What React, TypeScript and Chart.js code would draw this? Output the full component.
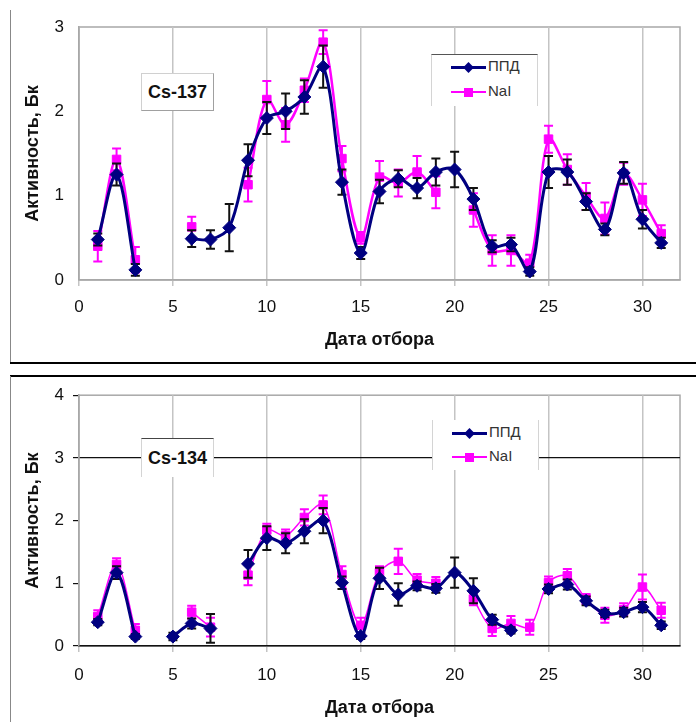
import React, { useEffect, useRef } from "react";
import { Chart, registerables } from "chart.js";

Chart.register(...registerables);

// Sampling days (x axis)
const days = [1, 2, 3, 4, 5, 6, 7, 8, 9, 10, 11, 12, 13, 14, 15, 16, 17, 18, 19, 20, 21, 22, 23, 24, 25, 26, 27, 28, 29, 30, 31];

// Cs-137 activity, Bq
const ppd137 = [0.48, 1.25, 0.12, null, null, 0.49, 0.48, 0.62, 1.42, 1.92, 2.0, 2.17, 2.53, 1.16, 0.32, 1.05, 1.2, 1.09, 1.28, 1.31, 0.96, 0.4, 0.42, 0.1, 1.28, 1.28, 0.93, 0.6, 1.27, 0.72, 0.44];
const ppd137Err = [0.07, 0.13, 0.07, null, null, 0.1, 0.11, 0.28, 0.19, 0.19, 0.21, 0.2, 0.25, 0.15, 0.07, 0.14, 0.1, 0.12, 0.16, 0.21, 0.13, 0.07, 0.08, 0.05, 0.19, 0.15, 0.1, 0.07, 0.13, 0.11, 0.06];
const nai137 = [0.4, 1.43, 0.24, null, null, 0.63, null, null, 1.13, 2.14, 1.84, 2.25, 2.82, 1.44, 0.5, 1.22, 1.15, 1.28, 1.04, null, 0.83, 0.35, 0.35, 0.2, 1.67, 1.31, 0.99, 0.73, 1.26, 0.95, 0.55];
const nai137Err = [0.18, 0.13, 0.15, null, null, 0.12, null, null, 0.2, 0.22, 0.2, 0.14, 0.14, 0.15, 0.07, 0.19, 0.16, 0.19, 0.19, null, 0.2, 0.18, 0.18, 0.1, 0.16, 0.18, 0.16, 0.19, 0.13, 0.19, 0.1];

// Cs-134 activity, Bq
const ppd134 = [0.38, 1.17, 0.15, null, 0.15, 0.36, 0.28, null, 1.31, 1.72, 1.64, 1.83, 2.0, 1.01, 0.16, 1.08, 0.82, 0.96, 0.92, 1.17, 0.88, 0.42, 0.25, null, 0.91, 0.98, 0.72, 0.52, 0.54, 0.62, 0.33];
const ppd134Err = [0.05, 0.1, 0.04, null, 0.06, 0.08, 0.23, null, 0.22, 0.19, 0.16, 0.19, 0.2, 0.1, 0.05, 0.17, 0.18, 0.07, 0.07, 0.24, 0.2, 0.08, 0.05, null, 0.07, 0.08, 0.07, 0.06, 0.07, 0.08, 0.06];
const nai134 = [0.47, 1.3, 0.25, null, null, 0.54, 0.3, null, 1.13, 1.85, 1.76, 2.05, 2.25, 1.14, 0.33, 1.17, 1.35, 1.05, 1.0, null, 0.75, 0.28, 0.36, 0.3, 1.01, 1.12, 0.75, 0.49, 0.58, 0.94, 0.57];
const nai134Err = [0.1, 0.1, 0.1, null, null, 0.1, 0.15, null, 0.16, 0.1, 0.1, 0.13, 0.15, 0.13, 0.12, 0.1, 0.2, 0.1, 0.1, null, 0.1, 0.12, 0.12, 0.12, 0.1, 0.11, 0.08, 0.12, 0.1, 0.2, 0.12];

const seriesNames = ["ППД", "NaI"];
const xTitle = "Дата отбора";
const yTitle = "Активность, Бк";

const FONT = '"Liberation Sans", Arial, sans-serif';
const NAVY = "#000080";
const MAGENTA = "#ff00ff";

type Num = number | null;

function errorBars(errs: Num[][], colors: string[]) {
  return {
    id: "errorBars",
    beforeDatasetDraw(chart: any, args: any) {
      const i = args.index;
      const err = errs[i];
      if (!err) return;
      const ds = chart.data.datasets[i];
      const xs = chart.scales.x;
      const ys = chart.scales.y;
      const ctx = chart.ctx;
      ctx.save();
      ctx.strokeStyle = colors[i];
      ctx.lineWidth = 2;
      ds.data.forEach((p: any, j: number) => {
        const e = err[j];
        if (p.y == null || e == null) return;
        const x = xs.getPixelForValue(p.x);
        const lo = ys.getPixelForValue(p.y - e);
        const hi = ys.getPixelForValue(p.y + e);
        ctx.beginPath();
        ctx.moveTo(x, lo);
        ctx.lineTo(x, hi);
        ctx.moveTo(x - 4.5, lo);
        ctx.lineTo(x + 4.5, lo);
        ctx.moveTo(x - 4.5, hi);
        ctx.lineTo(x + 4.5, hi);
        ctx.stroke();
      });
      ctx.restore();
    },
  };
}

const plotFrame = {
  id: "plotFrame",
  beforeDraw(chart: any) {
    const { left, top, right, bottom } = chart.chartArea;
    const ctx = chart.ctx;
    ctx.save();
    ctx.strokeStyle = "#a8a8a8";
    ctx.lineWidth = 1.5;
    ctx.strokeRect(left, top, right - left, bottom - top);
    ctx.restore();
  },
};

function axisTitles(xTitleY: number) {
  return {
    id: "axisTitles",
    afterDraw(chart: any) {
      const { left, top, right, bottom } = chart.chartArea;
      const ctx = chart.ctx;
      ctx.save();
      ctx.fillStyle = "#111";
      ctx.font = `bold 18px ${FONT}`;
      ctx.textAlign = "center";
      ctx.textBaseline = "middle";
      ctx.fillText(xTitle, (left + right) / 2, xTitleY);
      ctx.translate(33, (top + bottom) / 2);
      ctx.rotate(-Math.PI / 2);
      ctx.fillText(yTitle, 0, 0);
      ctx.restore();
    },
  };
}

type PanelProps = {
  top: number;
  height: number;
  padTop: number;
  plotBottom: number;
  yMax: number;
  ppd: Num[];
  ppdErr: Num[];
  nai: Num[];
  naiErr: Num[];
  naiWidth: number;
  yTickMarks: boolean;
  yGridAt: number | null;
  xBorder: string;
  xTickPad: number;
  xTitleY: number;
};

function Panel(p: PanelProps) {
  const ref = useRef<HTMLCanvasElement>(null);
  useEffect(() => {
    const toPts = (arr: Num[]) => days.map((d, i) => ({ x: d, y: arr[i] }));
    const chart = new Chart(ref.current as HTMLCanvasElement, {
      type: "line",
      data: {
        datasets: [
          {
            label: seriesNames[0],
            data: toPts(p.ppd) as any,
            borderColor: NAVY,
            backgroundColor: NAVY,
            borderWidth: 3,
            pointStyle: "rectRot",
            pointRadius: 6.5,
            pointBackgroundColor: NAVY,
            pointBorderColor: NAVY,
            pointBorderWidth: 1,
            tension: 0.33,
            spanGaps: false,
          },
          {
            label: seriesNames[1],
            data: toPts(p.nai) as any,
            borderColor: MAGENTA,
            backgroundColor: MAGENTA,
            borderWidth: p.naiWidth,
            pointStyle: "rect",
            pointRadius: 6,
            pointBackgroundColor: MAGENTA,
            pointBorderColor: MAGENTA,
            pointBorderWidth: 1,
            tension: 0.33,
            spanGaps: false,
          },
        ],
      },
      options: {
        animation: false,
        responsive: false,
        maintainAspectRatio: false,
        layout: { padding: { top: p.padTop, right: 16, left: 0, bottom: 0 } },
        plugins: { legend: { display: false }, tooltip: { enabled: false } },
        scales: {
          x: {
            type: "linear",
            min: 0,
            max: 32,
            afterBuildTicks: (s: any) => {
              s.ticks = s.ticks.filter((t: any) => t.value % 5 === 0);
            },
            afterFit: (s: any) => {
              s.height = p.height - p.plotBottom;
            },
            ticks: { stepSize: 5, font: { family: FONT, size: 17 }, color: "#111", padding: p.xTickPad, maxRotation: 0, autoSkip: false },
            grid: { color: "#c4c4c4", lineWidth: 1.5, tickLength: 6, tickColor: "#c4c4c4" },
            border: { color: p.xBorder, width: 1.5 },
          },
          y: {
            type: "linear",
            min: 0,
            max: p.yMax,
            afterFit: (s: any) => {
              s.width = 79;
            },
            ticks: { stepSize: 1, font: { family: FONT, size: 17 }, color: "#111", padding: 9 },
            grid: {
              color: (c: any) => (p.yGridAt !== null && c.tick && c.tick.value === p.yGridAt ? "#111" : "rgba(0,0,0,0)"),
              lineWidth: 1.2,
              tickLength: 6,
              tickColor: p.yTickMarks ? "#111" : "rgba(0,0,0,0)",
            },
            border: { color: "#a8a8a8", width: 1.5 },
          },
        },
      },
      plugins: [plotFrame, errorBars([p.ppdErr, p.naiErr], ["#111", MAGENTA]), axisTitles(p.xTitleY)],
    });
    return () => chart.destroy();
  }, []);
  return (
    <canvas
      ref={ref}
      width={696}
      height={p.height}
      style={{ position: "absolute", left: 0, top: p.top, width: 696, height: p.height, display: "block" }}
    />
  );
}

function Legend({ left, top, width, height, rows, topBorder, naiWidth }: any) {
  return (
    <>
      <div
        style={{
          position: "absolute",
          left,
          top,
          width,
          height,
          background: "#fff",
          borderTop: topBorder ? "1.5px solid #555" : "none",
          borderLeft: "1.5px solid #d4d4d4",
          borderRight: "1.5px solid #d4d4d4",
          boxSizing: "border-box",
        }}
      />
      {rows.map((y: number, i: number) => (
        <React.Fragment key={i}>
          <div
            style={{
              position: "absolute",
              left: left + 20,
              top: y - (i === 0 ? 1.5 : naiWidth / 2),
              width: 35,
              height: i === 0 ? 3 : naiWidth,
              background: i === 0 ? NAVY : MAGENTA,
            }}
          />
          <div
            style={{
              position: "absolute",
              left: left + 37.5 - (i === 0 ? 4.5 : 4.5),
              top: y - 4.5,
              width: 9,
              height: 9,
              background: i === 0 ? NAVY : MAGENTA,
              transform: i === 0 ? "rotate(45deg) scale(0.85)" : "none",
            }}
          />
          <div
            style={{
              position: "absolute",
              left: left + 57,
              top: y - 10,
              height: 20,
              lineHeight: "20px",
              font: `15px ${FONT}`,
              color: "#333",
              whiteSpace: "nowrap",
            }}
          >
            {seriesNames[i]}
          </div>
        </React.Fragment>
      ))}
    </>
  );
}

function Tag({ left, top, width, height, text, variant }: any) {
  const style: any =
    variant === 0
      ? {
          border: "1px solid #d0d0d0",
          borderRight: "1.5px solid #a0a0a0",
          borderBottom: "1.5px solid #a0a0a0",
        }
      : {
          borderTop: "1.5px solid #444",
          borderLeft: "1.5px solid #d4d4d4",
          borderRight: "1.5px solid #d4d4d4",
        };
  return (
    <div
      style={{
        position: "absolute",
        left,
        top,
        width,
        height,
        background: "#fff",
        boxSizing: "border-box",
        display: "flex",
        alignItems: "center",
        justifyContent: "center",
        font: `bold 18px ${FONT}`,
        color: "#111",
        ...style,
      }}
    >
      {text}
    </div>
  );
}

export default function App() {
  return (
    <div style={{ position: "absolute", left: 0, top: 0, width: 696, height: 722, background: "#fff", overflow: "hidden" }}>
      <Panel
        top={0}
        height={365}
        padTop={27}
        plotBottom={280}
        yMax={3}
        ppd={ppd137}
        ppdErr={ppd137Err}
        nai={nai137}
        naiErr={nai137Err}
        naiWidth={2.5}
        yTickMarks={false}
        yGridAt={null}
        xBorder="#a8a8a8"
        xTickPad={11}
        xTitleY={340}
      />
      <Panel
        top={376}
        height={346}
        padTop={15}
        plotBottom={270}
        yMax={4}
        ppd={ppd134}
        ppdErr={ppd134Err}
        nai={nai134}
        naiErr={nai134Err}
        naiWidth={1.5}
        yTickMarks={true}
        yGridAt={3}
        xBorder="#111"
        xTickPad={13}
        xTitleY={332}
      />
      {/* panel frames */}
      <div style={{ position: "absolute", left: 10, top: 10, width: 0, height: 354, borderLeft: "1px solid #888" }} />
      <div style={{ position: "absolute", left: 10, top: 362, width: 686, height: 0, borderTop: "2px solid #000" }} />
      <div style={{ position: "absolute", left: 10, top: 375, width: 686, height: 0, borderTop: "2px solid #000" }} />
      <div style={{ position: "absolute", left: 10, top: 376, width: 0, height: 346, borderLeft: "1px solid #888" }} />

      <Tag left={141} top={73} width={73} height={38} text="Cs-137" variant={0} />
      <Tag left={141} top={438} width={73} height={39} text="Cs-134" variant={1} />

      <Legend left={431} top={54} width={107} height={52} rows={[67, 92]} topBorder={true} naiWidth={2.5} />
      <Legend left={432} top={420} width={107} height={50} rows={[433, 457]} topBorder={false} naiWidth={1.5} />
    </div>
  );
}
